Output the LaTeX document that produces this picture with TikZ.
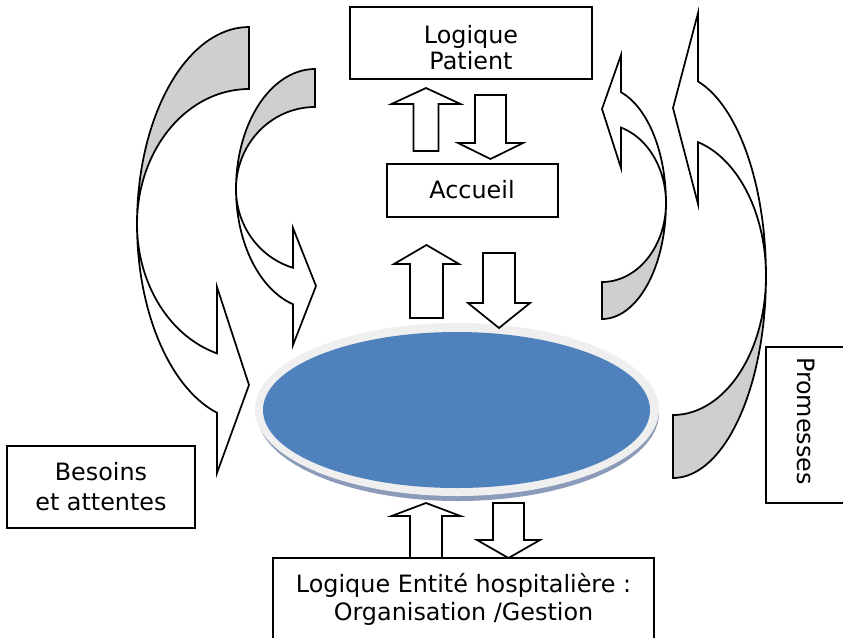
\documentclass[tikz,border=0pt]{standalone}
\usepackage{fontspec}
\setmainfont{DejaVu Sans}
\definecolor{bandgray}{RGB}{207,207,207}
\definecolor{discblue}{RGB}{79,129,189}
\definecolor{discrim}{RGB}{239,239,239}
\definecolor{discshadow}{RGB}{140,155,185}
\newcommand{\vblock}[6]{\draw[blk] ({#1-#5},#2) -- ({#1-#5},#3) -- ({#1-#6},#3) -- (#1,#4) -- ({#1+#6},#3) -- ({#1+#5},#3) -- ({#1+#5},#2) -- cycle;}
\begin{document}
\begin{tikzpicture}[x=0.75pt,y=-0.75pt,
  box/.style={draw, line width=1.3pt, fill=white, inner sep=0pt},
  lbl/.style={inner sep=0pt, anchor=base, font=\fontsize{17.9}{21}\selectfont},
  blk/.style={draw, line width=1.3pt, fill=white, line join=miter},
  backband/.style={draw, line width=1.3pt, fill=bandgray},
  frontband/.style={draw, line width=1.3pt, fill=white, line join=miter}]
\useasboundingbox (0,0) rectangle (843,637);
\fill[white] (0,0) rectangle (843,637);

% ---- left big curved arrow
\draw[backband] plot[variable=\t,domain=90:180,samples=40] ({249+112*cos(\t)},{224-197*sin(\t)})
  -- plot[variable=\t,domain=0:90,samples=40] ({249+112*cos(180-\t)},{224-135*sin(180-\t)}) -- cycle;
\draw[frontband] plot[variable=\t,domain=180:253.4,samples=40] ({249+112*cos(\t)},{224-197*sin(\t)})
  -- (217,473) -- (249,385) -- (217,287)
  -- plot[variable=\t,domain=0:73.4,samples=40] ({249+112*cos(253.4-\t)},{224-135*sin(253.4-\t)}) -- cycle;

% ---- left small curved arrow
\draw[backband] plot[variable=\t,domain=90:180,samples=40] ({315+79*cos(\t)},{189-120*sin(\t)})
  -- plot[variable=\t,domain=0:90,samples=40] ({315+79*cos(180-\t)},{189-82*sin(180-\t)}) -- cycle;
\draw[frontband] plot[variable=\t,domain=180:253.8,samples=40] ({315+79*cos(\t)},{189-120*sin(\t)})
  -- (293,345) -- (316,286) -- (293,228)
  -- plot[variable=\t,domain=0:73.8,samples=40] ({315+79*cos(253.8-\t)},{189-82*sin(253.8-\t)}) -- cycle;

% ---- right big curved arrow
\draw[backband] plot[variable=\t,domain=270:360,samples=40] ({673+93*cos(\t)},{276-202*sin(\t)})
  -- plot[variable=\t,domain=0:90,samples=40] ({673+93*cos(360-\t)},{276-139*sin(360-\t)}) -- cycle;
\draw[frontband] plot[variable=\t,domain=0:74.4,samples=40] ({673+93*cos(\t)},{276-202*sin(\t)})
  -- (698,13) -- (673,108) -- (698,204)
  -- plot[variable=\t,domain=0:74.4,samples=40] ({673+93*cos(74.4-\t)},{276-139*sin(74.4-\t)}) -- cycle;

% ---- right small curved arrow
\draw[backband] plot[variable=\t,domain=270:360,samples=40] ({602+64*cos(\t)},{203-116*sin(\t)})
  -- plot[variable=\t,domain=0:90,samples=40] ({602+64*cos(360-\t)},{203-79*sin(360-\t)}) -- cycle;
\draw[frontband] plot[variable=\t,domain=0:72.7,samples=40] ({602+64*cos(\t)},{203-116*sin(\t)})
  -- (621,55) -- (602,109) -- (621,168)
  -- plot[variable=\t,domain=0:72.7,samples=40] ({602+64*cos(72.7-\t)},{203-79*sin(72.7-\t)}) -- cycle;

% ---- central disc
\fill[discshadow] (458,413) ellipse [x radius=150.75pt, y radius=66pt];
\fill[discrim] (457,409.5) ellipse [x radius=151.5pt, y radius=64.875pt];
\fill[discblue] (456.5,410) ellipse [x radius=145.125pt, y radius=58.5pt];

% ---- block arrows
\vblock{426}{151}{104}{88}{12.5}{34.5}
\vblock{490.5}{95}{143}{159}{15.5}{32.5}
\vblock{426.5}{318}{264}{245}{16.5}{32.5}
\vblock{499}{253}{303}{328}{16}{31}
\vblock{426}{558}{516}{503}{16}{34.5}
\vblock{508.5}{503}{540}{558}{15.5}{31.5}

% ---- boxes
\node[box, minimum width=181.5pt, minimum height=54pt] (patient) at (471,43) {};
\node[box, minimum width=128.25pt, minimum height=39.75pt] (accueil) at (472.5,190.5) {};
\node[box, minimum width=141pt, minimum height=61.5pt] (besoins) at (101,487) {};
\node[box, minimum width=63pt, minimum height=117pt] (promesses) at (808,425) {};
\node[box, minimum width=285.75pt, minimum height=65.25pt] (entite) at (463.5,601.5) {};

% ---- texts
\node[lbl] (patient1) at (471,43) {Logique};
\node[lbl] (patient2) at (471,69) {Patient};
\node[lbl] (accueilt) at (472,198.5) {Accueil};
\node[lbl] (besoins1) at (101,480) {Besoins};
\node[lbl] (besoins2) at (101,510) {et attentes};
\node[lbl] (entite1) at (463.5,592) {Logique Entité hospitalière :};
\node[lbl] (entite2) at (463.5,620) {Organisation /Gestion};
\node[lbl, anchor=center, rotate=-90] (promt) at (806,421) {Promesses};
\end{tikzpicture}
\end{document}
